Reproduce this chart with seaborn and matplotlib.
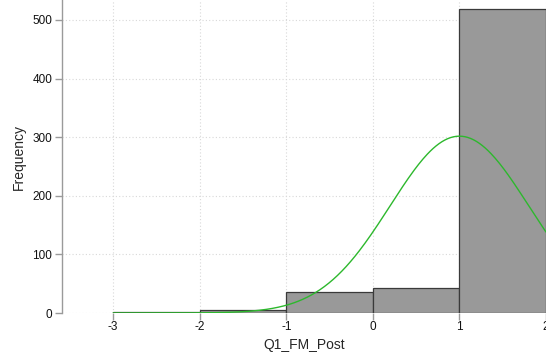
import numpy as np
import pandas as pd
import matplotlib
matplotlib.use("Agg")
import matplotlib.pyplot as plt
import seaborn as sns

bin_edges = [-3, -2, -1, 0, 1, 2]
counts = [2, 5, 36, 43, 519]
curve_mean = 1.0
curve_sd = 0.80
y_ticks = [0, 100, 200, 300, 400, 500]
x_ticks = [-3, -2, -1, 0, 1, 2]

sns.set_style("white")
plt.rcParams['font.family'] = ['Liberation Sans', 'DejaVu Sans']

fig = plt.figure(figsize=(5.46, 3.53), dpi=100)
ax = fig.add_axes([62/546, 1-313/353, 1-62/546, 313/353])

centers = [(a + b) / 2 for a, b in zip(bin_edges[:-1], bin_edges[1:])]
df = pd.DataFrame({"x": centers, "w": counts})

n = sum(counts)
bw = bin_edges[1] - bin_edges[0]
xs = np.linspace(bin_edges[0], bin_edges[-1], 300)
ys = n * bw * np.exp(-0.5 * ((xs - curve_mean) / curve_sd) ** 2) / (curve_sd * np.sqrt(2 * np.pi))
sns.lineplot(x=xs, y=ys, ax=ax, color="#2db82d", linewidth=1.0, zorder=2)

sns.histplot(data=df, x="x", weights="w", bins=bin_edges, ax=ax,
             color="#999999", edgecolor="#3a3a3a", linewidth=0.9, alpha=1, zorder=1)
ax.lines[0].set_zorder(3)

ax.set_xlim(-3.59, 2.0)
ax.set_ylim(0, 534)
ax.set_xticks(x_ticks)
ax.set_yticks(y_ticks)
ax.set_xticklabels([str(t) for t in x_ticks])
ax.grid(True, linestyle=(0, (1, 2)), color="#d8d8d8", linewidth=0.8, zorder=0)
ax.set_axisbelow(True)
for s in ["top", "right", "bottom"]:
    ax.spines[s].set_visible(False)
ax.spines["left"].set_color("#9a9a9a")
ax.spines["left"].set_linewidth(1.0)
ax.tick_params(axis="both", which="both", direction="out", length=5, width=1.0,
               color="#9a9a9a", labelsize=8.5, labelcolor="#111111",
               bottom=True, left=True)
ax.tick_params(axis="x", pad=1)
ax.tick_params(axis="y", pad=2)
ax.set_xlabel("Q1_FM_Post", fontsize=10, labelpad=3)
ax.set_ylabel("Frequency", fontsize=10, labelpad=5)

fig.savefig("out.png", dpi=100)
